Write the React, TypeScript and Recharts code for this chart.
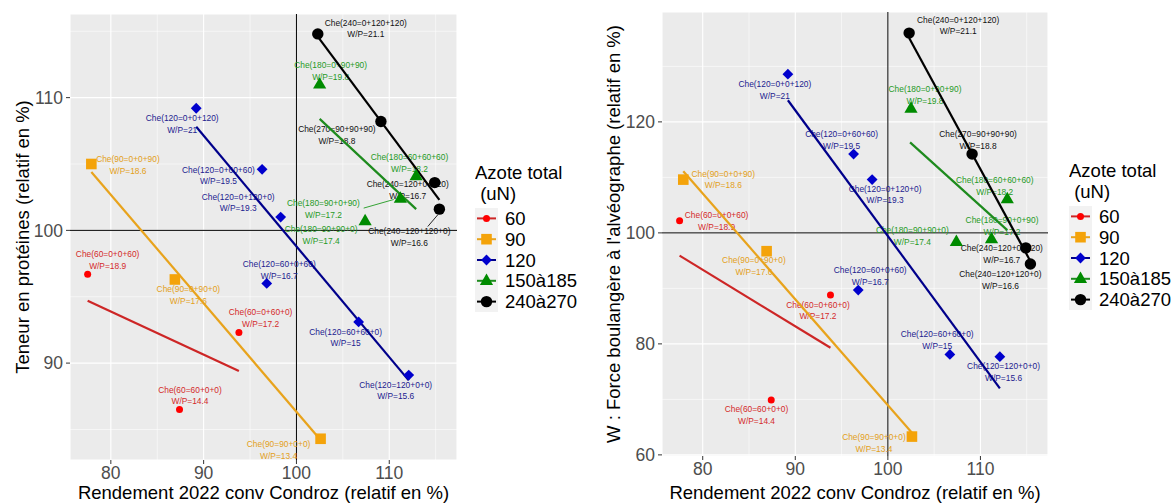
import React from 'react';
import { ScatterChart, Scatter, XAxis, YAxis, CartesianGrid, ReferenceLine } from 'recharts';

// ---------- data ----------
const groupNames = ['60', '90', '120', '150à185', '240à270'];

const names60 = ['Che(60=0+0+60)', 'Che(60=0+60+0)', 'Che(60=60+0+0)'];
const wp60 = ['W/P=18.9', 'W/P=17.2', 'W/P=14.4'];
const yield60 = [77.5, 93.8, 87.4];
const protein60 = [96.7, 92.3, 86.5];
const force60 = [102.2, 88.8, 69.9];

const names90 = ['Che(90=0+0+90)', 'Che(90=0+90+0)', 'Che(90=90+0+0)'];
const wp90 = ['W/P=18.6', 'W/P=17.6', 'W/P=13.4'];
const yield90 = [77.9, 86.9, 102.6];
const protein90 = [105.0, 96.3, 84.3];
const force90 = [109.6, 96.7, 63.3];

const names120 = ['Che(120=0+0+120)', 'Che(120=0+60+60)', 'Che(120=0+120+0)', 'Che(120=60+0+60)', 'Che(120=60+60+0)', 'Che(120=120+0+0)'];
const wp120 = ['W/P=21', 'W/P=19.5', 'W/P=19.3', 'W/P=16.7', 'W/P=15', 'W/P=15.6'];
const yield120 = [89.2, 96.3, 98.3, 96.8, 106.7, 112.1];
const protein120 = [109.2, 104.6, 101.0, 96.0, 93.1, 89.1];
const force120 = [128.6, 114.2, 109.6, 89.7, 78.1, 77.7];

const names150 = ['Che(180=0+90+90)', 'Che(180=60+60+60)', 'Che(180=90+0+90)', 'Che(180=90+90+0)'];
const wp150 = ['W/P=19.8', 'W/P=18.2', 'W/P=17.2', 'W/P=17.4'];
const yield150 = [102.5, 112.9, 111.2, 107.4];
const protein150 = [111.0, 104.1, 102.4, 100.7];
const force150 = [122.4, 106.1, 98.9, 98.4];

const names240 = ['Che(240=0+120+120)', 'Che(270=90+90+90)', 'Che(240=120+0+120)', 'Che(240=120+120+0)'];
const wp240 = ['W/P=21.1', 'W/P=18.8', 'W/P=16.7', 'W/P=16.6'];
const yield240 = [102.3, 109.1, 114.9, 115.4];
const protein240 = [114.8, 108.2, 103.6, 101.6];
const force240 = [136.0, 114.2, 97.3, 94.4];

// fitted trend lines (start / end): [x1, y1, x2, y2]
const proteinFits = [
  [77.5, 94.7, 93.8, 89.4],
  [77.9, 104.4, 102.6, 84.2],
  [89.2, 107.8, 112.1, 88.7],
  [102.5, 108.4, 112.9, 101.6],
  [102.3, 114.6, 115.4, 102.3],
];
const forceFits = [
  [77.5, 95.9, 93.8, 79.3],
  [77.9, 111.1, 102.6, 64.0],
  [89.2, 123.9, 112.1, 72.0],
  [102.4, 116.3, 112.9, 100.5],
  [102.3, 135.1, 115.4, 94.9],
];

const xTicks = [80, 90, 100, 110];
const xMinor = [85, 95, 105, 115];
const proteinTicks = [90, 100, 110];
const proteinMinor = [85, 95, 105, 115];
const forceTicks = [60, 80, 100, 120];
const forceMinor = [70, 90, 110, 130];

// ---------- styles ----------
const FONT = '"Liberation Sans", Arial, Helvetica, sans-serif';
const pointColors = ['#FF0000', '#F4A30A', '#0000CD', '#008B00', '#000000'];
const lineColors = ['#CD2626', '#E8A31C', '#00008B', '#1E8B1E', '#000000'];
const textColors = ['#D42A2A', '#E3A020', '#22228F', '#1F9A1F', '#111111'];
const shapeKinds = ['circle', 'square', 'diamond', 'triangle', 'bigcircle'];

// label block offsets (px) relative to the point, per panel
const proteinLabelPos: Record<string, number[]> = {
  'Che(240=0+120+120)': [48, -5.5],
  'Che(180=0+90+90)': [11, -13.3],
  'Che(120=0+0+120)': [-14, 16],
  'Che(270=90+90+90)': [-44, 13.5],
  'Che(90=0+0+90)': [36.6, 0.7],
  'Che(120=0+60+60)': [-43.7, 6.2],
  'Che(180=60+60+60)': [-6.7, -12.7],
  'Che(240=120+0+120)': [-27, 7.2],
  'Che(120=0+120+0)': [-42.5, -14.7],
  'Che(180=90+0+90)': [-77, 10.3],
  'Che(180=90+90+0)': [-44, 14],
  'Che(240=120+120+0)': [-30, 28],
  'Che(60=0+0+60)': [20, -14],
  'Che(120=60+0+60)': [12.5, -13.8],
  'Che(90=0+90+0)': [13.5, 15.7],
  'Che(60=0+60+0)': [21.7, -14.7],
  'Che(120=60+60+0)': [-13, 15.5],
  'Che(120=120+0+0)': [-13, 15.5],
  'Che(60=60+0+0)': [10.5, -14],
  'Che(90=90+0+0)': [-42, 11],
};
const proteinSegments: Record<string, number[]> = {
  'Che(180=90+0+90)': [-36.7, 9.6, -6.7, 1],
  'Che(240=120+120+0)': [-11.6, 17.4, -1.6, 5.7],
};
const forceLabelPos: Record<string, number[]> = {
  'Che(240=0+120+120)': [49, -7.7],
  'Che(120=0+0+120)': [-13, 15.5],
  'Che(180=0+90+90)': [14, -13.5],
  'Che(270=90+90+90)': [6, -14],
  'Che(120=0+60+60)': [-12, -14],
  'Che(90=0+0+90)': [40, 0],
  'Che(120=0+120+0)': [13, 15],
  'Che(180=60+60+60)': [-12.5, -13],
  'Che(60=0+0+60)': [37, 0],
  'Che(180=90+0+90)': [10.5, -13],
  'Che(180=90+90+0)': [-44, -6],
  'Che(240=120+0+120)': [-24, 6],
  'Che(240=120+120+0)': [-30, 16],
  'Che(90=0+90+0)': [-12.7, 15],
  'Che(120=60+0+60)': [12, -14],
  'Che(60=0+60+0)': [-12.5, 15.3],
  'Che(120=60+60+0)': [-12.7, -14.7],
  'Che(120=120+0+0)': [3.7, 15.3],
  'Che(60=60+0+0)': [-14.7, 15.3],
  'Che(90=90+0+0)': [-38, 6.7],
};
const forceSegments: Record<string, number[]> = {};

// ---------- build records ----------
const groupNamesArr = [names60, names90, names120, names150, names240];
const groupWp = [wp60, wp90, wp120, wp150, wp240];
const groupYield = [yield60, yield90, yield120, yield150, yield240];
const groupProtein = [protein60, protein90, protein120, protein150, protein240];
const groupForce = [force60, force90, force120, force150, force240];

type Rec = { x: number; y: number; name: string; wp: string; g: number };
function buildRecords(values: number[][]): Rec[][] {
  return groupNamesArr.map((names, g) =>
    names.map((name, i) => ({ x: groupYield[g][i], y: values[g][i], name, wp: groupWp[g][i], g }))
  );
}

// ---------- marks ----------
function Marker({ kind, cx, cy, color }: { kind: string; cx: number; cy: number; color: string }) {
  if (kind === 'circle') return <circle cx={cx} cy={cy} r={3.5} fill={color} />;
  if (kind === 'bigcircle') return <circle cx={cx} cy={cy} r={5.7} fill={color} />;
  if (kind === 'square') return <rect x={cx - 5.3} y={cy - 5.3} width={10.6} height={10.6} fill={color} />;
  if (kind === 'diamond')
    return <polygon points={`${cx},${cy - 5.4} ${cx + 5.4},${cy} ${cx},${cy + 5.4} ${cx - 5.4},${cy}`} fill={color} />;
  return (
    <polygon points={`${cx},${cy - 7.2} ${cx + 6.6},${cy + 4.2} ${cx - 6.6},${cy + 4.2}`} fill={color} />
  );
}

function PointLabel(props: any, pos: Record<string, number[]>, segs: Record<string, number[]>) {
  const { cx, cy, payload } = props;
  if (cx == null || cy == null || !payload) return <g />;
  const off = pos[payload.name] || [0, -14];
  const color = textColors[payload.g];
  const lx = cx + off[0];
  const ly = cy + off[1];
  const seg = segs[payload.name];
  return (
    <g>
      {seg && (
        <line x1={cx + seg[0]} y1={cy + seg[1]} x2={cx + seg[2]} y2={cy + seg[3]} stroke={color} strokeWidth={0.9} />
      )}
      <text x={lx} y={ly - 5.85} textAnchor="middle" dominantBaseline="central" fontSize={8.4} fontFamily={FONT} fill={color}>
        {payload.name}
      </text>
      <text x={lx} y={ly + 5.85} textAnchor="middle" dominantBaseline="central" fontSize={8.4} fontFamily={FONT} fill={color}>
        {payload.wp}
      </text>
    </g>
  );
}

// ---------- panel ----------
type PanelProps = {
  left: number;
  width: number;
  margin: { top: number; right: number; bottom: number; left: number };
  yAxisWidth: number;
  xAxisHeight: number;
  yDomain: number[];
  yTicks: number[];
  yMinor: number[];
  values: number[][];
  fits: number[][];
  labelPos: Record<string, number[]>;
  segs: Record<string, number[]>;
  yTitle: string;
  yTitleX: number;
  yTitleY: number;
  xTitleX: number;
};

function Panel(p: PanelProps) {
  const recs = buildRecords(p.values);
  const allRecs = recs.flat();
  const tickStyle = { fill: '#4D4D4D', fontSize: 17.5, fontFamily: FONT };
  return (
    <div style={{ position: 'absolute', left: p.left, top: 0 }}>
      <ScatterChart width={p.width} height={503} margin={p.margin}>
        <CartesianGrid fill="#EBEBEB" stroke="#FFFFFF" strokeWidth={1.1} />
        {xMinor.map((v) => (
          <ReferenceLine key={'xm' + v} x={v} stroke="#FFFFFF" strokeWidth={0.55} zIndex={-90} />
        ))}
        {p.yMinor.map((v) => (
          <ReferenceLine key={'ym' + v} y={v} stroke="#FFFFFF" strokeWidth={0.55} zIndex={-90} />
        ))}
        <XAxis
          type="number"
          dataKey="x"
          domain={[75.6, 117.3]}
          ticks={xTicks}
          allowDataOverflow
          axisLine={false}
          tickLine={{ stroke: '#333333', strokeWidth: 1 }}
          tickSize={4}
          tickMargin={3}
          tick={tickStyle}
          height={p.xAxisHeight}
          label={() => (
            <text x={p.xTitleX} y={499} textAnchor="middle" fontSize={18.5} fontFamily={FONT} fill="#000000">
              Rendement 2022 conv Condroz (relatif en %)
            </text>
          )}
        />
        <YAxis
          type="number"
          dataKey="y"
          domain={p.yDomain}
          ticks={p.yTicks}
          allowDataOverflow
          axisLine={false}
          tickLine={{ stroke: '#333333', strokeWidth: 1 }}
          tickSize={4}
          tickMargin={3}
          tick={tickStyle}
          width={p.yAxisWidth}
          label={() => (
            <text
              x={p.yTitleX}
              y={p.yTitleY}
              transform={`rotate(-90 ${p.yTitleX} ${p.yTitleY})`}
              textAnchor="middle"
              dominantBaseline="central"
              fontSize={18.5}
              fontFamily={FONT}
              fill="#000000"
            >
              {p.yTitle}
            </text>
          )}
        />
        <ReferenceLine x={100} stroke="#000000" strokeWidth={1} />
        <ReferenceLine y={100} stroke="#000000" strokeWidth={1} />
        <Scatter
          name="labels"
          data={allRecs}
          isAnimationActive={false}
          shape={(props: any) => PointLabel(props, p.labelPos, p.segs)}
        />
        {p.fits.map((f, g) => (
          <Scatter
            key={'fit' + g}
            name={'fit' + groupNames[g]}
            data={[
              { x: f[0], y: f[1] },
              { x: f[2], y: f[3] },
            ]}
            fill={lineColors[g]}
            line={{ stroke: lineColors[g], strokeWidth: 2.2 }}
            isAnimationActive={false}
            shape={() => <g />}
          />
        ))}
        {recs.map((r, g) => (
          <Scatter
            key={'pts' + g}
            name={groupNames[g]}
            data={r}
            fill={pointColors[g]}
            isAnimationActive={false}
            shape={(props: any) => <Marker kind={shapeKinds[g]} cx={props.cx} cy={props.cy} color={pointColors[g]} />}
          />
        ))}
      </ScatterChart>
    </div>
  );
}

// ---------- legend ----------
function LegendBox({ left, top }: { left: number; top: number }) {
  const rowH = 20.8;
  return (
    <svg style={{ position: 'absolute', left, top }} width={110} height={170}>
      <text x={0} y={29} fontSize={18.5} fontFamily={FONT} fill="#000000">Azote total</text>
      <text x={0} y={50} fontSize={18.5} fontFamily={FONT} fill="#000000" xmlSpace="preserve">{' (uN)'}</text>
      <rect x={0} y={58} width={23} height={rowH * 5} fill="#F2F2F2" />
      {groupNames.map((n, g) => {
        const cy = 58 + rowH * g + rowH / 2;
        return (
          <g key={n}>
            <line x1={2} x2={21} y1={cy} y2={cy} stroke={lineColors[g]} strokeWidth={2} />
            <Marker kind={shapeKinds[g]} cx={11.5} cy={cy} color={pointColors[g]} />
            <text x={30} y={cy} dominantBaseline="central" fontSize={18.5} fontFamily={FONT} fill="#000000">
              {n}
            </text>
          </g>
        );
      })}
    </svg>
  );
}

export default function App() {
  return (
    <div style={{ position: 'absolute', left: 0, top: 0, width: 1172, height: 503, background: '#FFFFFF', overflow: 'hidden' }}>
      <Panel
        left={0}
        width={460}
        margin={{ top: 14, right: 3, bottom: 0, left: 0 }}
        yAxisWidth={70}
        xAxisHeight={43}
        yDomain={[82.7, 116.3]}
        yTicks={proteinTicks}
        yMinor={proteinMinor}
        values={groupProtein}
        fits={proteinFits}
        labelPos={proteinLabelPos}
        segs={proteinSegments}
        yTitle="Teneur en protéines (relatif en %)"
        yTitleX={22}
        yTitleY={237}
        xTitleX={263.5}
      />
      <LegendBox left={475} top={150} />
      <Panel
        left={580}
        width={470}
        margin={{ top: 12, right: 2, bottom: 0, left: 0 }}
        yAxisWidth={82}
        xAxisHeight={47}
        yDomain={[59.8, 139.8]}
        yTicks={forceTicks}
        yMinor={forceMinor}
        values={groupForce}
        fits={forceFits}
        labelPos={forceLabelPos}
        segs={forceSegments}
        yTitle="W : Force boulangère à l'alvéographe (relatif en %)"
        yTitleX={33}
        yTitleY={234}
        xTitleX={275}
      />
      <LegendBox left={1069} top={148} />
    </div>
  );
}
